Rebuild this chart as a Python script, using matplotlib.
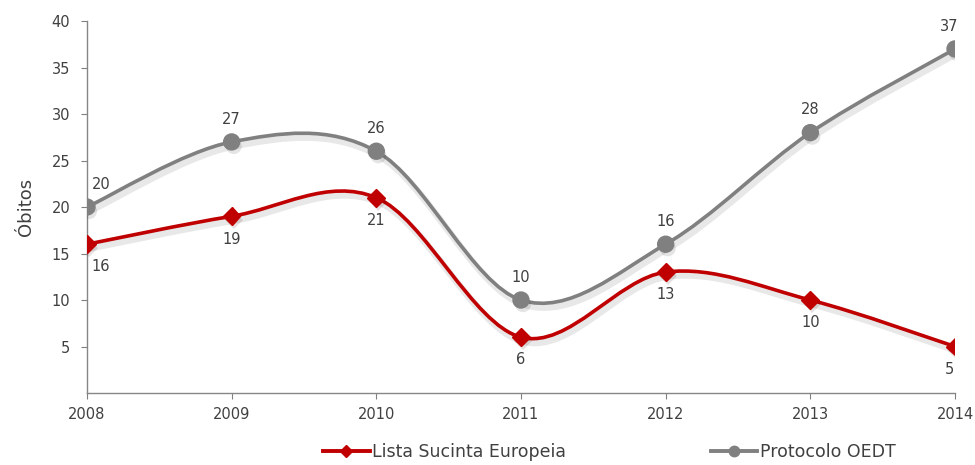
import matplotlib
matplotlib.use('Agg')
import matplotlib.pyplot as plt
from matplotlib.path import Path
from matplotlib.patches import PathPatch
import matplotlib.patheffects as pe
import numpy as np

plt.rcParams['font.family'] = ['DejaVu Sans']

years = [2008, 2009, 2010, 2011, 2012, 2013, 2014]
lista = [16, 19, 21, 6, 13, 10, 5]
oedt = [20, 27, 26, 10, 16, 28, 37]
y_ticks = [5, 10, 15, 20, 25, 30, 35, 40]

RED = '#C00000'
GRAY = '#808080'
TEXT = '#404040'


def smooth_path(xs, ys):
    # Excel-style smoothed line: cubic bezier with Catmull-Rom tangents
    p = np.column_stack([xs, ys]).astype(float)
    n = len(p)
    verts = [p[0]]
    codes = [Path.MOVETO]
    for i in range(n - 1):
        p0 = p[i - 1] if i > 0 else p[i]
        p3 = p[i + 2] if i + 2 < n else p[i + 1]
        c1 = p[i] + (p[i + 1] - p0) / 6
        c2 = p[i + 1] - (p3 - p[i]) / 6
        verts += [c1, c2, p[i + 1]]
        codes += [Path.CURVE4] * 3
    return Path(verts, codes)


fig = plt.figure(figsize=(9.75, 4.65), dpi=100)
ax = fig.add_axes([0.0892, 0.1548, 0.8903, 0.8])

for vals, color, marker, ms in [(oedt, GRAY, 'o', 11.5), (lista, RED, 'D', 9)]:
    patch = PathPatch(smooth_path(years, vals), facecolor='none', edgecolor=color,
                      lw=2.6, zorder=3, capstyle='round')
    patch.set_path_effects([pe.SimpleLineShadow(offset=(1.5, -3), shadow_color='black',
                                                alpha=0.09, linewidth=5), pe.Normal()])
    ax.add_patch(patch)
    ax.plot(years, vals, linestyle='none', marker=marker, ms=ms, color=color, zorder=4,
            path_effects=[pe.SimplePatchShadow(offset=(1.5, -3), alpha=0.12), pe.Normal()])

# data labels
for i, (x, v) in enumerate(zip(years, oedt)):
    dx = 10 if i == 0 else (-4 if i == len(years) - 1 else 0)
    ax.annotate(str(v), (x, v), xytext=(dx, 11), textcoords='offset points',
                ha='center', va='bottom', fontsize=10.5, color=TEXT)
for i, (x, v) in enumerate(zip(years, lista)):
    dx = 10 if i == 0 else (-4 if i == len(years) - 1 else 0)
    ax.annotate(str(v), (x, v), xytext=(dx, -11), textcoords='offset points',
                ha='center', va='top', fontsize=10.5, color=TEXT)

ax.set_xlim(years[0], years[-1])
ax.set_ylim(0, 40)
ax.set_xticks(years)
ax.set_yticks(y_ticks)
ax.tick_params(axis='both', colors='#808080', labelcolor=TEXT, labelsize=10.5,
               direction='out', length=4)
ax.tick_params(axis='x', pad=6)
ax.tick_params(axis='y', pad=8)
for s in ['top', 'right']:
    ax.spines[s].set_visible(False)
for s in ['left', 'bottom']:
    ax.spines[s].set_color('#868686')
    ax.spines[s].set_linewidth(1)
ax.set_ylabel('Óbitos', fontsize=13, color=TEXT, labelpad=12)

handles = [
    plt.Line2D([], [], color=RED, lw=2.8, marker='D', ms=6.5),
    plt.Line2D([], [], color=GRAY, lw=2.8, marker='o', ms=7.5),
]
fig.legend(handles, ['Lista Sucinta Europeia', 'Protocolo OEDT'], loc='lower center',
           bbox_to_anchor=(0.625, -0.025), ncol=2, frameon=False, fontsize=12.5,
           handlelength=2.7, handletextpad=0.15, columnspacing=8.3, labelcolor=TEXT)

fig.savefig('out.png', dpi=100)
